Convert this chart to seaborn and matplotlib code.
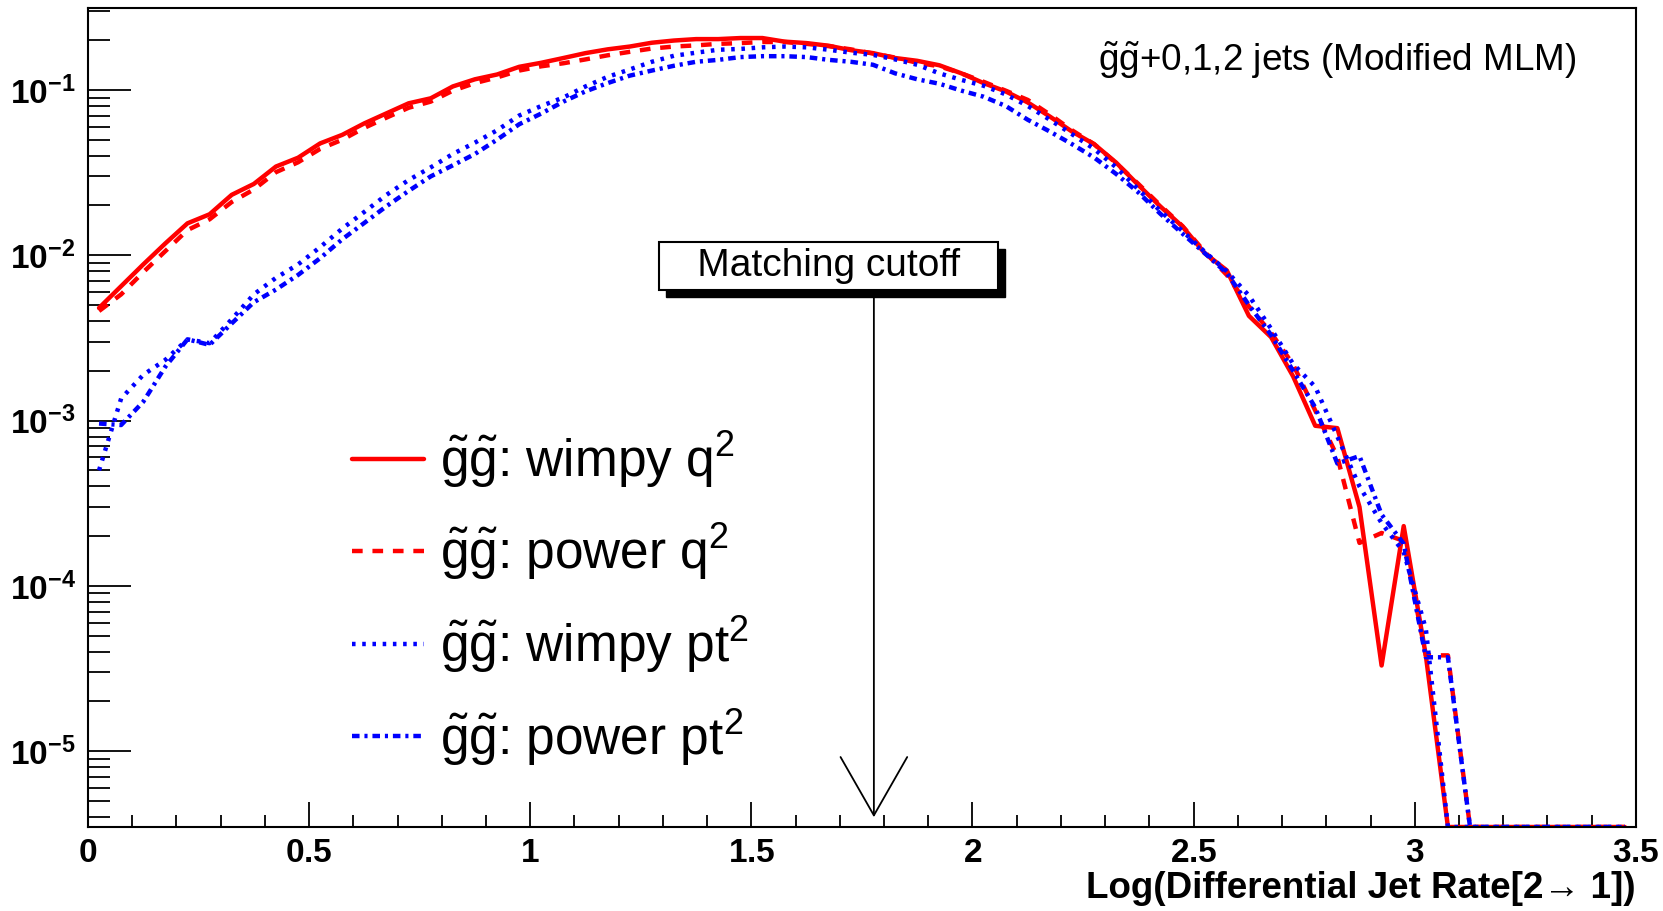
import numpy as np
import pandas as pd
import seaborn as sns
import matplotlib
matplotlib.use("Agg")
import matplotlib.pyplot as plt
from matplotlib.patches import Rectangle
from matplotlib.transforms import IdentityTransform
from matplotlib.ticker import MultipleLocator, LogLocator, FuncFormatter, NullFormatter

# 直方图的bin中心 (0到3.5, 宽0.05)
bin_centers = np.arange(0.025, 3.5, 0.05)

# 读图得到的四条曲线
wimpy_q2 = [4.8e-3, 6.5e-3, 8.8e-3, 0.0118, 0.0156, 0.0177, 0.0232, 0.027, 0.0344, 0.0389,
            0.0475, 0.0535, 0.0628, 0.0722, 0.083, 0.089, 0.105, 0.116, 0.124, 0.138,
            0.146, 0.156, 0.167, 0.176, 0.183, 0.193, 0.199, 0.203, 0.203, 0.206,
            0.206, 0.196, 0.192, 0.185, 0.174, 0.167, 0.156, 0.150, 0.141, 0.126,
            0.110, 0.098, 0.084, 0.069, 0.056, 0.047, 0.0363, 0.0266, 0.0197, 0.0149,
            0.0103, 0.0081, 0.0043, 0.0032, 0.00185, 0.00093, 0.00090, 0.00030, 3.3e-5, 2.3e-4,
            3.8e-5, 0, 0, 0, 0, 0, 0, 0, 0, 0]
power_q2 = [4.6e-3, 5.8e-3, 7.9e-3, 0.0106, 0.0142, 0.0165, 0.021, 0.025, 0.0318, 0.0365,
            0.044, 0.050, 0.059, 0.068, 0.078, 0.085, 0.099, 0.110, 0.119, 0.131,
            0.139, 0.145, 0.153, 0.162, 0.170, 0.178, 0.183, 0.186, 0.190, 0.192,
            0.195, 0.195, 0.190, 0.184, 0.176, 0.166, 0.157, 0.146, 0.139, 0.126,
            0.112, 0.099, 0.087, 0.071, 0.057, 0.047, 0.036, 0.027, 0.0200, 0.0150,
            0.0105, 0.0076, 0.0049, 0.0034, 0.00218, 0.00115, 6.05e-4, 1.82e-4, 2.09e-4, 1.87e-4,
            3.8e-5, 3.8e-5, 0, 0, 0, 0, 0, 0, 0, 0]
wimpy_pt2 = [5.0e-4, 1.36e-3, 1.89e-3, 2.33e-3, 3.1e-3, 2.94e-3, 4.1e-3, 5.8e-3, 7.3e-3, 8.8e-3,
             0.0112, 0.0145, 0.0183, 0.0232, 0.0285, 0.034, 0.041, 0.048, 0.057, 0.070,
             0.080, 0.090, 0.105, 0.120, 0.133, 0.148, 0.161, 0.168, 0.175, 0.177,
             0.181, 0.183, 0.181, 0.175, 0.168, 0.163, 0.153, 0.142, 0.126, 0.115,
             0.106, 0.094, 0.080, 0.066, 0.054, 0.044, 0.034, 0.025, 0.0185, 0.0140,
             0.0105, 0.0080, 0.0057, 0.0036, 0.0022, 0.0016, 8.0e-4, 4.0e-4, 2.4e-4, 1.6e-4,
             5.5e-5, 0, 0, 0, 0, 0, 0, 0, 0, 0]
power_pt2 = [9.6e-4, 9.4e-4, 1.3e-3, 2.12e-3, 3.1e-3, 2.87e-3, 3.87e-3, 5.2e-3, 6.2e-3, 7.6e-3,
             9.6e-3, 0.0125, 0.0157, 0.0198, 0.0245, 0.030, 0.035, 0.041, 0.050, 0.062,
             0.072, 0.085, 0.098, 0.110, 0.122, 0.131, 0.140, 0.148, 0.152, 0.158,
             0.160, 0.160, 0.158, 0.152, 0.148, 0.142, 0.126, 0.116, 0.109, 0.099,
             0.091, 0.080, 0.066, 0.056, 0.047, 0.039, 0.031, 0.024, 0.0178, 0.0135,
             0.0103, 0.0078, 0.0050, 0.0033, 0.0020, 0.0012, 5.5e-4, 6.1e-4, 2.7e-4, 1.8e-4,
             3.7e-5, 3.7e-5, 0, 0, 0, 0, 0, 0, 0, 0]

curve_names = ["wimpy q2", "power q2", "wimpy pt2", "power pt2"]
legend_labels = [r"$\tilde{\mathrm{g}}\tilde{\mathrm{g}}$: wimpy q$^{2}$",
                 r"$\tilde{\mathrm{g}}\tilde{\mathrm{g}}$: power q$^{2}$",
                 r"$\tilde{\mathrm{g}}\tilde{\mathrm{g}}$: wimpy pt$^{2}$",
                 r"$\tilde{\mathrm{g}}\tilde{\mathrm{g}}$: power pt$^{2}$"]
colors = ["#ff0000", "#ff0000", "#0000ff", "#0000ff"]
line_styles = ["-", (0, (2.4, 2.2)), (0, (0.8, 1.5)), (0, (1.7, 1.1, 0.7, 1.1))]

YMIN, YMAX = 3.48e-6, 0.311

sns.set_theme(style="white")
plt.rcParams["font.family"] = ["Liberation Sans", "DejaVu Sans"]
plt.rcParams["text.color"] = "black"
plt.rcParams["axes.labelcolor"] = "black"
plt.rcParams["mathtext.fontset"] = "custom"
plt.rcParams["mathtext.rm"] = "Liberation Sans"
plt.rcParams["mathtext.it"] = "Liberation Sans:italic"
plt.rcParams["mathtext.bf"] = "Liberation Sans:bold"

# 整理成长表
df = pd.DataFrame({
    "x": np.tile(bin_centers, 4),
    "y": np.concatenate([wimpy_q2, power_q2, wimpy_pt2, power_pt2]),
    "curve": np.repeat(curve_names, len(bin_centers)),
})
# 空bin在对数坐标下画在底边
df["y_plot"] = df["y"].clip(lower=YMIN)

fig = plt.figure(figsize=(16.63, 9.11), dpi=100)
ax = fig.add_axes([0.0529, 0.0922, 0.9308, 0.8985])

for name, c, ls in zip(curve_names, colors, line_styles):
    sub = df[df["curve"] == name]
    sns.lineplot(data=sub, x="x", y="y_plot", color=c, linestyle=ls, linewidth=3.2,
                 estimator=None, errorbar=None, sort=False, legend=False, ax=ax)

ax.set_yscale("log")
ax.set_xlim(0, 3.5)
ax.set_ylim(YMIN, YMAX)
ax.set_ylabel("")
ax.xaxis.set_major_locator(MultipleLocator(0.5))
ax.xaxis.set_minor_locator(MultipleLocator(0.1))
ax.xaxis.set_major_formatter(FuncFormatter(lambda v, p: r"$\mathbf{%g}$" % v))
ax.yaxis.set_major_locator(LogLocator(base=10, numticks=20))
ax.yaxis.set_minor_locator(LogLocator(base=10, subs=np.arange(2, 10), numticks=20))
ax.yaxis.set_major_formatter(FuncFormatter(lambda v, p: r"$\mathbf{10^{%d}}$" % round(np.log10(v))))
ax.yaxis.set_minor_formatter(NullFormatter())

ax.tick_params(axis="both", which="both", direction="in", top=False, right=False,
               bottom=True, left=True, color="black", width=1.3, labelcolor="black")
ax.tick_params(axis="x", which="major", length=18, labelsize=24, pad=8)
ax.tick_params(axis="x", which="minor", length=9)
ax.tick_params(axis="y", which="major", length=31, labelsize=24, pad=9)
ax.tick_params(axis="y", which="minor", length=15.5)
for s in ax.spines.values():
    s.set_color("black")
    s.set_linewidth(1.5)

ax.set_xlabel("Log(Differential Jet Rate[2\u2192 1])", loc="right", fontsize=26.5,
              fontweight="bold", labelpad=1, color="black")

# 图例
leg = ax.legend(handles=ax.lines[:4], labels=legend_labels, loc="upper left",
                bbox_to_anchor=(0.1705, 0.486), frameon=False,
                prop={"size": 37}, handlelength=1.41,
                handletextpad=0.31, labelspacing=0.62, borderpad=0, borderaxespad=0)
for t in leg.get_texts():
    t.set_color("black")

# 右上角说明
ax.text(0.6525, 0.937, r"$\tilde{\mathrm{g}}\tilde{\mathrm{g}}$+0,1,2 jets (Modified MLM)",
        transform=ax.transAxes, fontsize=26.6, ha="left", va="center", color="black")

# Matching cutoff 框
box_txt = ax.text(0.4787, 0.6854, "   Matching cutoff   ", transform=ax.transAxes,
                  fontsize=28, ha="center", va="center", color="black", zorder=5,
                  bbox=dict(boxstyle="square,pad=0.15", fc="white", ec="black", lw=1.5))

cut_x = 1.777
ax.annotate("", xy=(cut_x, 0.012), xycoords=("data", "axes fraction"),
            xytext=(cut_x, 0.656), textcoords=("data", "axes fraction"),
            arrowprops=dict(arrowstyle="->,head_length=2.1,head_width=1.2", lw=1.3,
                            color="black", shrinkA=0, shrinkB=0, mutation_scale=20))

# 框的阴影 (右下偏移), 放在框的下面
fig.canvas.draw()
bb = box_txt.get_bbox_patch().get_window_extent(fig.canvas.get_renderer())
shadow = Rectangle((bb.x0 + 7, bb.y0 - 7), bb.width, bb.height, transform=IdentityTransform(),
                   facecolor="black", edgecolor="black", zorder=4.5, clip_on=False)
ax.add_artist(shadow)

fig.savefig("out.png", dpi=100)
